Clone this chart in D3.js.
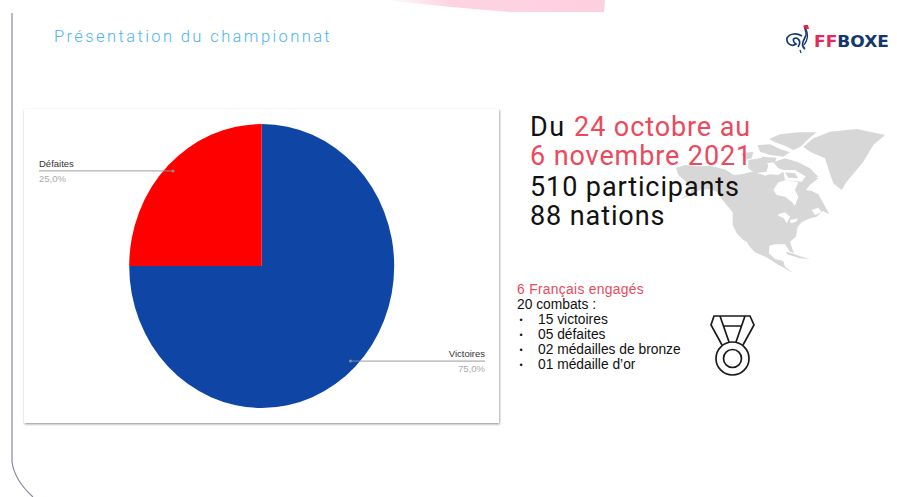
<!DOCTYPE html>
<html lang="fr">
<head>
<meta charset="utf-8">
<script src="https://cdn.jsdelivr.net/npm/d3@7/dist/d3.min.js"></script>
<style>
  html, body { margin: 0; padding: 0; background: #fff; }
  svg { display: block; }
</style>
</head>
<body>
<svg id="slide" width="897" height="497"></svg>
<script>
// Pie data
const categories = ["Victoires", "Défaites"];
const values = [75, 25];
const valueLabels = ["75,0%", "25,0%"];
const sliceColors = ["#0f46a6", "#ff0000"];

// Slide copy
const headlineLines = [
  [{ t: "Du ", c: "#111111", ls: 1.6 }, { t: "24 octobre au", c: "#ea4a5c" }],
  [{ t: "6 novembre 2021", c: "#ea4a5c" }],
  [{ t: "510 participants", c: "#111111" }],
  [{ t: "88 nations", c: "#111111" }]
];
const detailHeading = "6 Français engagés";
const detailIntro = "20 combats :";
const detailBullets = ["15 victoires", "05 défaites", "02 médailles de bronze", "01 médaille d’or"];

const svg = d3.select("#slide");
const defs = svg.append("defs");

const shadow = defs.append("filter").attr("id", "cardShadow")
  .attr("x", "-3%").attr("y", "-3%").attr("width", "106%").attr("height", "106%");
shadow.append("feDropShadow").attr("dx", 0.6).attr("dy", 1.2)
  .attr("stdDeviation", 1.3).attr("flood-color", "#000").attr("flood-opacity", 0.42);

const pinkFade = defs.append("linearGradient").attr("id", "pinkFade");
pinkFade.append("stop").attr("offset", "0").attr("stop-color", "#fdd3e2").attr("stop-opacity", 0.1);
pinkFade.append("stop").attr("offset", "0.3").attr("stop-color", "#fdd3e2");
pinkFade.append("stop").attr("offset", "1").attr("stop-color", "#fdd0e0");

// Slide frame: pink band at the top, rule with a rounded corner at the left
svg.append("path")
  .attr("d", "M385,0 L605,0 L604,12 L510,12 C470,9 430,5 385,0 Z")
  .attr("fill", "url(#pinkFade)");
svg.append("path")
  .attr("d", "M12,13 L12,462 C14,476 22,487 33,497")
  .attr("fill", "none").attr("stroke", "#858a9c").attr("stroke-width", 1.2);

// Title
svg.append("text")
  .attr("x", 54).attr("y", 42)
  .attr("font-family", "Roboto").attr("font-weight", 300)
  .attr("font-size", 16.5).attr("letter-spacing", 2.4)
  .attr("fill", "#4cb4ee")
  .text("Présentation du championnat");

// Logo: rooster outline and wordmark
const logo = svg.append("g").attr("class", "logo");
logo.append("path")
  .attr("d", "M802,36 C797,33 790,33 787,38 C786,44 792,47 796,44 C793,42 792,38 796,38 C800,39 801,43 798,47 M805,49 C800,45 804,40 806,35 C807,31 804,29 805,27")
  .attr("fill", "none").attr("stroke", "#14386e").attr("stroke-width", 1.7);
logo.append("path")
  .attr("d", "M805,27 C808,33 809,38 804,45 M800,50 L801,53")
  .attr("fill", "none").attr("stroke", "#14386e").attr("stroke-width", 1.2);
logo.append("path").attr("d", "M803,26 L805,25 L808,25 L809,29 L805,29 Z").attr("fill", "#e3263f");
logo.append("text")
  .attr("x", 814).attr("y", 47.3)
  .attr("font-family", "DejaVu Sans").attr("font-weight", 700).attr("font-size", 15.5)
  .attr("textLength", 75).attr("lengthAdjust", "spacingAndGlyphs")
  .selectAll("tspan")
  .data([{ t: "FF", c: "#e8285a" }, { t: "BOXE", c: "#14386e" }])
  .join("tspan").attr("fill", d => d.c).text(d => d.t);

// Chart card
const card = { x: 24, y: 109, w: 475, h: 314 };
svg.append("rect")
  .attr("x", card.x).attr("y", card.y).attr("width", card.w).attr("height", card.h)
  .attr("fill", "#fff").attr("filter", "url(#cardShadow)");

// Pie, stretched vertically as on the slide
const center = { x: 261.7, y: 266 };
const radiusX = 132.5;
const radiusY = 142;
const stretch = radiusY / radiusX;
const pieLayout = d3.pie().sort(null).value(d => d.value);
const slices = pieLayout(categories.map((name, i) => ({
  name, value: values[i], label: valueLabels[i], color: sliceColors[i]
})));
const arcShape = d3.arc().innerRadius(0).outerRadius(radiusX);
const leaderArc = d3.arc().innerRadius(radiusX * 0.947).outerRadius(radiusX * 0.947);

svg.append("g")
  .attr("transform", `translate(${center.x},${center.y}) scale(1,${stretch})`)
  .selectAll("path").data(slices).join("path")
  .attr("d", arcShape)
  .attr("fill", d => d.data.color);

// Leader lines and labels, anchored on each slice's mid-angle
const leaders = svg.append("g").selectAll("g").data(slices).join("g");
const anchor = d => {
  const [cx, cy] = leaderArc.centroid(d);
  return { x: center.x + cx, y: center.y + cy * stretch };
};
const labelEdge = d => anchor(d).x > center.x ? 485 : 39;
leaders.append("line")
  .attr("x1", d => anchor(d).x).attr("y1", d => anchor(d).y)
  .attr("x2", labelEdge).attr("y2", d => anchor(d).y)
  .attr("stroke", "#8f8f8f").attr("stroke-width", 0.9);
leaders.append("circle")
  .attr("cx", d => anchor(d).x).attr("cy", d => anchor(d).y)
  .attr("r", 1.5).attr("fill", "#8f8f8f");
leaders.append("text")
  .attr("x", labelEdge).attr("y", d => anchor(d).y - 4)
  .attr("text-anchor", d => anchor(d).x > center.x ? "end" : "start")
  .attr("font-family", "Liberation Sans").attr("font-size", 9.5)
  .attr("fill", "#333").text(d => d.data.name);
leaders.append("text")
  .attr("x", labelEdge).attr("y", d => anchor(d).y + 11)
  .attr("text-anchor", d => anchor(d).x > center.x ? "end" : "start")
  .attr("font-family", "Liberation Sans").attr("font-size", 9.5)
  .attr("fill", "#ababab").text(d => d.data.label);

// North America backdrop
const land = svg.append("g").attr("transform", "translate(670,125) scale(0.3333)");
const landShapes = [
  "M400,65 L430,40 L480,20 L560,12 L645,30 L610,60 L580,110 L530,170 L515,195 L490,175 L478,140 L465,100 L420,80 Z",
  "M18,128 L45,120 L85,124 L120,123 L165,133 L190,150 L215,148 L245,140 L268,146 L285,152 L300,148 L325,150 L340,140 L345,165 L395,170 L410,150 L445,160 L420,180 L408,195 L425,198 L445,208 L462,238 L478,268 L458,258 L440,275 L420,280 L395,292 L383,305 L378,335 L360,350 L368,375 L372,385 L360,380 L345,358 L315,358 L298,362 L297,385 L315,402 L340,408 L345,425 L370,445 L348,432 L322,418 L292,398 L255,382 L225,350 L200,325 L188,300 L188,262 L170,240 L150,215 L140,200 L120,192 L90,195 L60,212 L30,222 L65,200 L48,170 L25,150 Z",
  "M298,42 L330,28 L385,22 L440,22 L415,42 L392,65 L370,75 L345,62 L315,52 Z",
  "M262,60 L300,58 L330,72 L360,82 L340,95 L300,90 L270,80 Z",
  "M310,112 L345,100 L385,112 L420,130 L445,155 L425,162 L400,150 L375,135 L340,135 L325,130 Z",
  "M235,105 L280,98 L295,120 L290,140 L255,145 L235,130 Z",
  "M215,85 L250,80 L245,100 L222,105 Z",
  "M275,95 L320,98 L315,112 L285,115 Z",
  "M345,142 L375,145 L385,160 L355,158 Z",
  "M350,380 L395,395 L420,402 L390,400 L350,388 Z"
];
land.selectAll("path.land").data(landShapes).join("path")
  .attr("class", "land").attr("d", d => d).attr("fill", "#d7d7d7");
const waterShapes = [
  "M310,195 L325,172 L350,165 L385,172 L375,195 L385,215 L375,242 L365,230 L345,215 L320,210 Z",
  "M222,345 L230,350 L248,380 L240,376 Z",
  "M325,268 L345,262 L360,275 L350,295 L342,280 L325,272 Z",
  "M360,285 L385,280 L378,290 L362,295 Z",
  "M425,255 L445,248 L455,262 L435,270 Z"
];
land.selectAll("path.water").data(waterShapes).join("path")
  .attr("class", "water").attr("d", d => d).attr("fill", "#fff");

// Headline block
const headlineBaselines = [136, 165, 196, 225];
const headline = svg.append("g")
  .attr("font-family", "Roboto").attr("font-size", 27).attr("letter-spacing", 0.9);
headlineLines.forEach((runs, i) => {
  const line = headline.append("text").attr("x", 530).attr("y", headlineBaselines[i]);
  runs.forEach(r => {
    line.append("tspan").attr("fill", r.c).attr("xml:space", "preserve")
      .style("white-space", "pre").attr("letter-spacing", r.ls || null).text(r.t);
  });
});

// French team details
const details = svg.append("g")
  .attr("font-family", "Liberation Sans").attr("font-size", 13.8).attr("fill", "#111");
details.append("text").attr("x", 517).attr("y", 294)
  .attr("fill", "#ea4a5c").attr("letter-spacing", 0.32).text(detailHeading);
details.append("text").attr("x", 517).attr("y", 309).text(detailIntro);
detailBullets.forEach((line, i) => {
  const y = 324 + i * 15;
  details.append("text").attr("x", 519.5).attr("y", y - 1).attr("font-size", 9).text("•");
  details.append("text").attr("x", 538).attr("y", y).text(line);
});

// Medal icon
const medal = svg.append("g").attr("fill", "none").attr("stroke", "#1a1a1a").attr("stroke-width", 1.7);
medal.append("path").attr("d", "M722,345 L711,325 L714,316 L750,316 L754,325 L743,345");
medal.append("path").attr("d", "M720,316 L729,342 M745,316 L736,342 M723,326 L742,326");
medal.append("circle").attr("cx", 732.5).attr("cy", 358.5).attr("r", 16.5);
medal.append("circle").attr("cx", 732.5).attr("cy", 358.5).attr("r", 9);
</script>
</body>
</html>
